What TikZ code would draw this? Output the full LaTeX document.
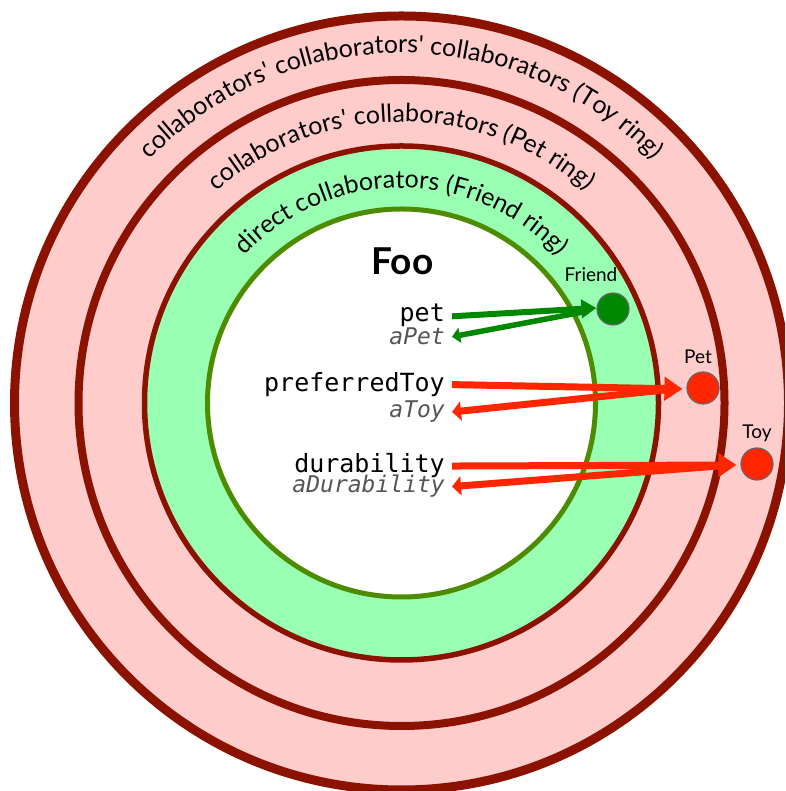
\documentclass[tikz,border=0pt]{standalone}
\usepackage{fontspec}
\newfontfamily\lato{Lato}
\newfontfamily\mono{DejaVu Sans Mono}
\usetikzlibrary{arrows.meta,decorations.text}
\definecolor{ringred}{RGB}{140,18,0}
\definecolor{ringpink}{RGB}{255,204,204}
\definecolor{ringgreen}{RGB}{153,255,178}
\definecolor{innergreen}{RGB}{77,140,0}
\definecolor{arrgreen}{RGB}{0,136,0}
\definecolor{arrred}{RGB}{255,38,0}
\definecolor{txtgray}{RGB}{85,85,85}
\tikzset{
  ringtext/.style={decorate, decoration={text along path, text align=center, text={|\lato\fontsize{25}{25}\selectfont|#1}}},
  member/.style={inner sep=0pt, anchor=base east, font=\mono\fontsize{25}{25}\selectfont},
  param/.style={inner sep=0pt, anchor=base east, text=txtgray, font=\mono\itshape\fontsize{23}{23}\selectfont},
  objlabel/.style={inner sep=0pt, anchor=base, font=\lato\fontsize{19}{19}\selectfont},
  obj/.style={circle, draw=black!60, line width=1.2pt, minimum size=32pt, inner sep=0pt},
  garrow/.style={draw=arrgreen, line width=6pt, -{Triangle[length=15pt,width=18pt]}},
  gback/.style={draw=arrgreen, line width=5.5pt, -{Triangle[length=8pt,width=15pt]}},
  rarrow/.style={draw=arrred, line width=7pt, -{Triangle[length=18pt,width=23pt]}},
  rback/.style={draw=arrred, line width=7pt, -{Triangle[length=9pt,width=19pt]}},
}
\begin{document}
\begin{tikzpicture}[x=1pt,y=1pt]
\useasboundingbox (0,0) rectangle (785,791);
\clip (0,0) rectangle (785,791);
\coordinate (c) at (401.5,388);
% rings
\fill[ringpink, draw=ringred, line width=9pt] (c) circle[radius=387pt];
\fill[ringpink, draw=ringred, line width=8pt] (c) circle[radius=323pt];
\fill[ringgreen, draw=ringred, line width=5.5pt] (c) circle[radius=257pt];
\fill[white, draw=innergreen, line width=5pt] (c) circle[radius=194pt];
% ring texts
\path[ringtext={collaborators' collaborators' collaborators (Toy ring)}] (c) ++(180:350pt) arc[start angle=180, end angle=0, radius=350pt];
\path[ringtext={collaborators' collaborators (Pet ring)}] (c) ++(180:281pt) arc[start angle=180, end angle=0, radius=281pt];
\path[ringtext={direct collaborators (Friend ring)}] (c) ++(180:215pt) arc[start angle=180, end angle=0, radius=215pt];
% Foo
\node[inner sep=0pt, anchor=base, font=\lato\bfseries\fontsize{37}{37}\selectfont] (foo) at (402.5,516) {Foo};
% members
\node[member] (pet) at (445,469.5) {pet};
\node[param] (apet) at (445,446) {aPet};
\node[member] (ptoy) at (445,399.5) {preferredToy};
\node[param] (atoy) at (445,373) {aToy};
\node[member] (dur) at (445,318) {durability};
\node[param] (adur) at (445,298) {aDurability};
% objects
\node[obj, fill=arrgreen] (friend) at (613,482) {};
\node[obj, fill=arrred] (petobj) at (703,403) {};
\node[obj, fill=arrred] (toyobj) at (757,327) {};
\node[objlabel] (friendlbl) at (591,509) {Friend};
\node[objlabel] (petlbl) at (698,427) {Pet};
\node[objlabel] (toylbl) at (757,352) {Toy};
% arrows
\draw[gback] ([xshift=-8pt,yshift=-2pt]friend.west) -- ([xshift=7pt]apet.east);
\draw[garrow] ([xshift=7pt,yshift=-1pt]pet.east) -- ([yshift=1pt]friend.west);
\draw[rback] ([xshift=-22pt,yshift=-2pt]petobj.west) -- ([xshift=7pt]atoy.east);
\draw[rarrow] ([xshift=7pt]ptoy.east) -- ([xshift=-4pt,yshift=-1pt]petobj.west);
\draw[rback] ([xshift=-22pt,yshift=-2pt]toyobj.west) -- ([xshift=7pt]adur.east);
\draw[rarrow] ([xshift=7pt]dur.east) -- ([xshift=-4pt,yshift=-1pt]toyobj.west);
\end{tikzpicture}
\end{document}
